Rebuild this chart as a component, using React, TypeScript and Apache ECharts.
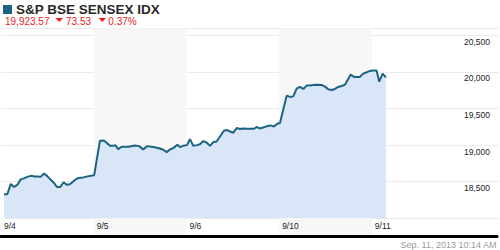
import React, { useEffect, useRef } from "react";
import * as echarts from "echarts";

// Session labels on the x axis (one unit per trading day)
const dayLabels = ["9/4", "9/5", "9/6", "9/10", "9/11"];
// Shaded trading days (index into dayLabels)
const shadedDays = [1, 3];

// Position along the axis in trading days
const times = [
  0.032, 0.068, 0.105, 0.14, 0.175, 0.212, 0.247, 0.282, 0.317, 0.365, 0.401, 0.426, 0.462, 0.494,
  0.526, 0.562, 0.601, 0.637, 0.673, 0.709, 0.744, 0.781, 0.822, 0.854, 0.884, 0.929, 1.001,
  1.063, 1.106, 1.171, 1.206, 1.228, 1.26, 1.296, 1.367, 1.439, 1.486, 1.528, 1.571, 1.636, 1.708,
  1.743, 1.78, 1.815, 1.851, 1.894, 1.923, 1.958, 1.998,
  2.03, 2.066, 2.105, 2.137, 2.173, 2.209, 2.245, 2.28, 2.317, 2.36, 2.395, 2.431, 2.46, 2.495,
  2.532, 2.567, 2.603, 2.639, 2.682, 2.718, 2.746, 2.782, 2.817, 2.86, 2.897, 2.932, 2.968, 2.997,
  3.032, 3.069, 3.104, 3.14, 3.176, 3.212, 3.247, 3.284, 3.319, 3.354, 3.391, 3.445, 3.48, 3.516,
  3.552, 3.588, 3.623, 3.659, 3.695, 3.73, 3.756, 3.792, 3.856, 3.891, 3.928, 3.963, 3.998,
  4.035, 4.063, 4.1, 4.135,
];

// SENSEX index level
const values = [
  18329, 18329, 18470, 18429, 18456, 18532, 18545, 18566, 18580, 18570, 18570, 18566, 18611, 18580,
  18538, 18493, 18429, 18429, 18493, 18456, 18470, 18511, 18548, 18555, 18559, 18573, 18589,
  19059, 19063, 18990, 18990, 19000, 18945, 18977, 18977, 18995, 18986, 18940, 18986, 18973, 18954,
  18936, 18904, 18940, 18959, 19004, 18973, 18990, 19000,
  19082, 18990, 19000, 19011, 19055, 19036, 18990, 19041, 19049, 19132, 19196, 19206, 19186, 19169,
  19233, 19219, 19228, 19223, 19223, 19223, 19247, 19228, 19241, 19260, 19269, 19255, 19292, 19302,
  19484, 19676, 19658, 19666, 19771, 19795, 19767, 19813, 19813, 19822, 19826, 19822, 19799, 19762,
  19754, 19767, 19795, 19808, 19826, 19904, 19963, 19932, 19932, 19977, 19995, 20014, 20018,
  20018, 19867, 19977, 19924,
];

const title = "S&P BSE SENSEX IDX";
const lastPrice = "19,923.57";
const change = "73.53";
const changePct = "0.37%";
const timestamp = "Sep. 11, 2013 10:14 AM";

const FONT = "Arial, 'Liberation Sans', sans-serif";
const RED = "#ee1c1c";
const LINE = "#1a6482";

export default function App() {
  const ref = useRef<HTMLDivElement>(null);
  useEffect(() => {
    if (!ref.current) return;
    const chart = echarts.init(ref.current, undefined, { renderer: "svg" });
    const xCommon = { type: "value", min: 0, max: 5.35, interval: 1 };
    chart.setOption({
      animation: false,
      backgroundColor: "#ffffff",
      grid: [
        { left: 1, right: 1, top: 28.5, bottom: 13.3 },
        { left: 1, right: 1, top: 28, bottom: 31.7 },
      ],
      xAxis: [
        {
          ...xCommon,
          gridIndex: 0,
          z: 1,
          axisLine: { show: true, lineStyle: { color: "#000", width: 3 } },
          axisTick: { show: false },
          splitLine: { show: false },
          axisLabel: {
            inside: true,
            margin: 6,
            align: "left",
            padding: [0, 0, 0, 3],
            color: "#222",
            fontFamily: FONT,
            fontSize: 8.5,
            formatter: (v: number) => dayLabels[v] ?? "",
          },
        },
        { ...xCommon, gridIndex: 1, show: false, splitLine: { show: false } },
      ],
      yAxis: [
        { type: "value", gridIndex: 0, min: 0, max: 1, show: false, splitLine: { show: false } },
        {
          type: "value",
          gridIndex: 1,
          position: "right",
          min: 18000,
          max: 20600,
          interval: 500,
          z: 1,
          axisLine: { show: false },
          axisTick: { show: false },
          splitLine: { show: true, lineStyle: { color: "#ebebeb", width: 1 } },
          axisLabel: {
            inside: true,
            margin: 9,
            verticalAlign: "top",
            padding: [2, 0, 0, 0],
            color: "#222",
            fontFamily: FONT,
            fontSize: 8.5,
            formatter: (v: number) =>
              v % 500 === 0 && v > 18000 ? v.toLocaleString("en-US") : "",
          },
        },
      ],
      series: [
        {
          type: "line",
          xAxisIndex: 0,
          yAxisIndex: 0,
          z: 0,
          silent: true,
          data: [[0, 0]],
          showSymbol: false,
          lineStyle: { width: 0, opacity: 0 },
          markArea: {
            silent: true,
            itemStyle: { color: "#f7f7f7", opacity: 1, borderWidth: 0 },
            data: shadedDays.map((d) => [{ xAxis: d }, { xAxis: d + 1 }]),
          },
        },
        {
          type: "line",
          xAxisIndex: 1,
          yAxisIndex: 1,
          z: 2,
          data: times.map((t, i) => [t, values[i]]),
          showSymbol: false,
          lineStyle: { color: LINE, width: 2 },
          areaStyle: { color: "#d9e6f8", opacity: 1 },
        },
      ],
      graphic: [
        { type: "rect", shape: { x: 3, y: 5, width: 9, height: 9 }, style: { fill: LINE } },
        {
          type: "text",
          x: 16,
          y: 9.5,
          style: {
            text: title,
            fill: "#2a2a2a",
            font: `bold 13.5px ${FONT}`,
            verticalAlign: "middle",
          },
        },
        {
          type: "text",
          x: 5,
          y: 21.2,
          style: { text: lastPrice, fill: RED, font: `10px ${FONT}`, verticalAlign: "middle" },
        },
        {
          type: "polygon",
          shape: { points: [[55.5, 18], [63, 18], [59.25, 22]] },
          style: { fill: RED },
        },
        {
          type: "text",
          x: 66,
          y: 21.2,
          style: { text: change, fill: RED, font: `10px ${FONT}`, verticalAlign: "middle" },
        },
        {
          type: "polygon",
          shape: { points: [[98.5, 18], [106, 18], [102.25, 22]] },
          style: { fill: RED },
        },
        {
          type: "text",
          x: 108.3,
          y: 21.2,
          style: { text: changePct, fill: RED, font: `10px ${FONT}`, verticalAlign: "middle" },
        },
        {
          type: "text",
          right: 3,
          top: 240.5,
          style: { text: timestamp, fill: "#999", font: `9px ${FONT}` },
        },
      ],
    });
    return () => chart.dispose();
  }, []);
  return (
    <div
      ref={ref}
      style={{ position: "fixed", left: 0, top: 0, width: 500, height: 250 }}
    />
  );
}
